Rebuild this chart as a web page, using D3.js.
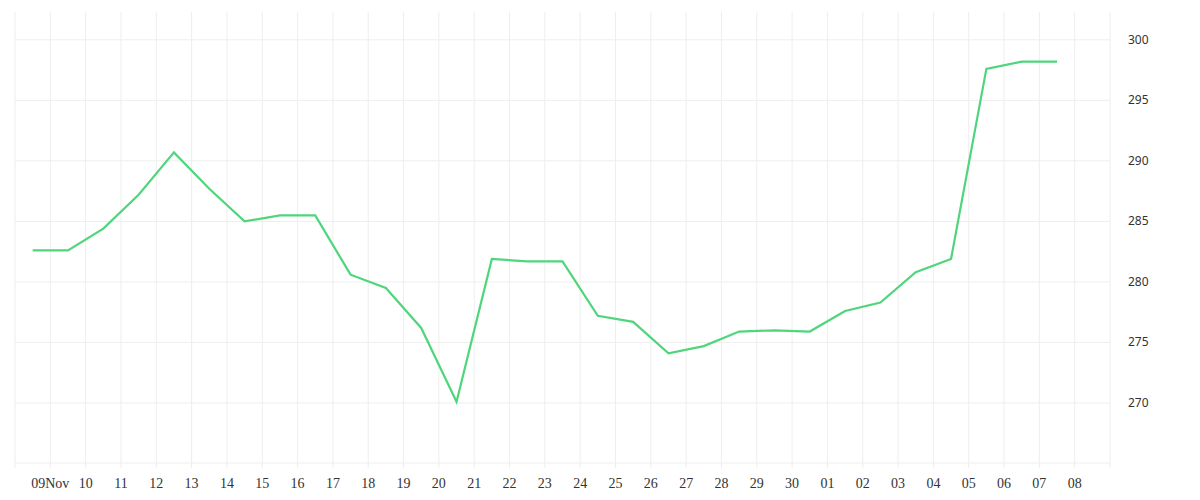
<!DOCTYPE html>
<html><head><meta charset="utf-8">
<script src="https://cdn.jsdelivr.net/npm/d3@7"></script>
<style>body{margin:0;background:#fff}</style>
</head><body><svg id="chart"></svg>
<script>
// data: one value per day, plotted at noon
const days = d3.range(30).map(i => new Date(2023, 10, 8 + i, 12));
const values = [282.6, 282.6, 284.4, 287.2, 290.7, 287.7, 285.0, 285.5, 285.5, 280.6,
  279.5, 276.2, 270.1, 281.9, 281.7, 281.7, 277.2, 276.7, 274.1, 274.7,
  275.9, 276.0, 275.9, 277.6, 278.3, 280.8, 281.9, 297.6, 298.2, 298.2];
const yTicks = [270, 275, 280, 285, 290, 295, 300];

const width = 1200, height = 500;
const padL = 15, padR = 1110, padT = 12, padB = 463;

const svg = d3.select('#chart').attr('width', width).attr('height', height);

const x = d3.scaleTime()
  .domain([new Date(2023, 10, 8), new Date(2023, 11, 9)])
  .range([padL, padR]);
const y = d3.scaleLinear().domain([265.04, 302.3]).range([padB, padT]);

const dayTicks = d3.timeDay.range(new Date(2023, 10, 8), new Date(2023, 11, 10));

// grid
svg.append('g').selectAll('line').data(dayTicks).enter().append('line')
  .attr('x1', d => x(d)).attr('x2', d => x(d))
  .attr('y1', padT).attr('y2', padB + 5)
  .attr('stroke', '#eeeeee');
svg.append('g').selectAll('line').data(yTicks.concat([265.04])).enter().append('line')
  .attr('x1', padL).attr('x2', padR)
  .attr('y1', d => y(d)).attr('y2', d => y(d))
  .attr('stroke', '#eeeeee');

// x labels
const fmt = d => d3.timeFormat('%d')(d) + (d.getDate() === 9 && d.getMonth() === 10 ? 'Nov' : '');
svg.append('g').selectAll('text').data(dayTicks.slice(1, 31)).enter().append('text')
  .attr('x', d => x(d)).attr('y', 488)
  .attr('text-anchor', 'middle')
  .style('font-family', 'Liberation Serif, serif').style('font-size', '14px').attr('fill', '#333')
  .text(fmt);

// y labels
svg.append('g').selectAll('text').data(yTicks).enter().append('text')
  .attr('x', 1128).attr('y', d => y(d) + 4)
  .style('font-family', 'Noto Sans, sans-serif').style('font-size', '12px').attr('fill', '#333')
  .text(d => d);

// line
svg.append('path')
  .datum(values)
  .attr('fill', 'none').attr('stroke', '#4fd57c').attr('stroke-width', 2.2)
  .attr('d', d3.line().x((d, i) => x(days[i])).y(d => y(d)));
</script></body></html>
